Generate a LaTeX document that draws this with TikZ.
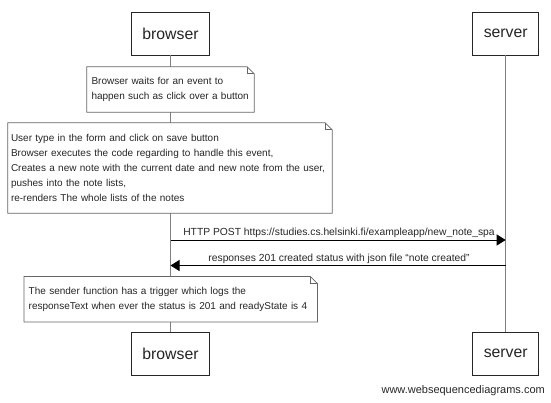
\documentclass[tikz,border=0pt]{standalone}
\usepackage{fontspec}
\setmainfont{Liberation Sans}
\usetikzlibrary{arrows.meta}
\hyphenpenalty=10000
\exhyphenpenalty=10000
\tikzset{
  actor/.style={draw=black!85, line width=0.9pt, fill=white, inner xsep=11pt, inner ysep=0pt,
    minimum height=43pt, font=\fontsize{15.8}{18}\selectfont, text=black!85},
  lifeline/.style={draw=black!50, line width=0.9pt},
  notebox/.style={fill=white, inner xsep=4.5pt, inner ysep=0pt, align=left,
    font=\fontsize{10}{15}\selectfont, text=black!85},
  noteline/.style={draw=black!60, line width=0.8pt},
  msg/.style={draw=black, line width=0.8pt, -{Triangle[length=9pt,width=11pt]}},
  msglabel/.style={font=\fontsize{10.3}{12}\selectfont, text=black!85, inner sep=0pt},
  footer/.style={font=\fontsize{11}{13}\selectfont, text=black!85, inner sep=0pt}
}
\newcommand{\notefold}[1]{%
  \draw[noteline] (#1.north west) -- ([xshift=-7pt]#1.north east) -- ([yshift=-7pt]#1.north east)
    -- (#1.south east) -- (#1.south west) -- cycle;
  \draw[noteline] ([xshift=-7pt]#1.north east) -- ([xshift=-7pt,yshift=-7pt]#1.north east)
    -- ([yshift=-7pt]#1.north east);
}
\begin{document}
\begin{tikzpicture}[x=1pt,y=-1pt]
\useasboundingbox (0,0) rectangle (551,403);
% actors
\node[actor] (bt) at (170.5,33.5) {browser};
\node[actor] (st) at (505.7,33.5) {server};
\node[actor] (bb) at (170.5,353.8) {browser};
\node[actor] (sb) at (505.7,353.8) {server};
% lifelines
\draw[lifeline] (bt.south) -- (bb.north);
\draw[lifeline] (st.south) -- (sb.north);
% note 1
\node[notebox, minimum width=167pt, minimum height=45pt, text width=158pt] (n1) at (170.5,89.5)
  {Browser waits for an event to\\happen such as click over a button};
\notefold{n1}
% note 2
\node[notebox, minimum width=324pt, minimum height=90pt, text width=318pt, inner xsep=3pt] (n2) at (170,168)
  {User type in the form and click on save button\\
   Browser executes the code regarding to handle this event,\\
   Creates a new note with the current date and new note from the user,\\
   pushes into the note lists,\\
   re-renders The whole lists of the notes};
\notefold{n2}
% messages
\coordinate (m1a) at (170.5,240);
\coordinate (m1b) at (505.7,240);
\coordinate (m2a) at (505.7,265.5);
\coordinate (m2b) at (170.5,265.5);
\draw[msg] (m1a) -- (m1b);
\node[msglabel] (l1) at (339,232.5) {HTTP POST https://studies.cs.helsinki.fi/exampleapp/new\_note\_spa};
\draw[msg] (m2a) -- (m2b);
\node[msglabel] (l2) at (339,258.5) {responses 201 created status with json file “note created”};
% note 3
\node[notebox, minimum width=293pt, minimum height=45pt, text width=284pt] (n3) at (170.7,299.2)
  {The sender function has a trigger which logs the\\responseText when ever the status is 201 and readyState is 4};
\notefold{n3}
% footer
\node[footer, anchor=east] (ft) at (545,391) {www.websequencediagrams.com};
\end{tikzpicture}
\end{document}
